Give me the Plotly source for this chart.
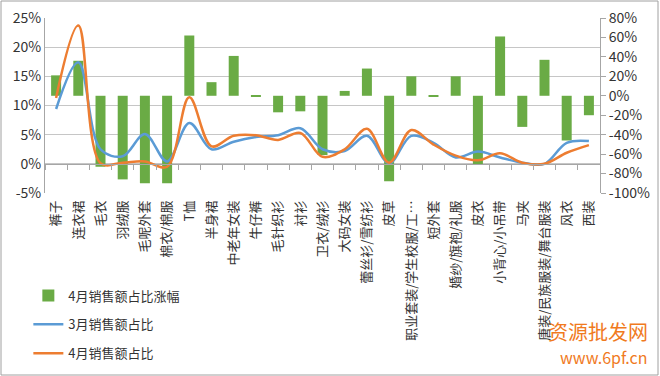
import plotly.graph_objects as go

categories = ["裤子", "连衣裙", "毛衣", "羽绒服", "毛呢外套", "棉衣/棉服", "T恤", "半身裙",
              "中老年女装", "牛仔裤", "毛针织衫", "衬衫", "卫衣/绒衫", "大码女装", "蕾丝衫/雪纺衫",
              "皮草", "职业套装/学生校服/工…", "短外套", "婚纱/旗袍/礼服", "皮衣", "小背心/小吊带",
              "马夹", "唐装/民族服装/舞台服装", "风衣", "西装"]
change_apr = [21, 36, -73, -86, -90, -90, 62, 14, 41, -1, -17, -16, -61, 5, 28,
              -88, 20, -1, 20, -71, 61, -32, 37, -46, -20]
share_mar = [9.4, 17.4, 2.5, 1.3, 5.1, 0.4, 7.0, 2.5, 3.8, 4.6, 4.9, 6.1, 2.5, 2.2, 4.8,
             0.1, 4.8, 3.6, 1.1, 2.1, 1.1, 0.2, 0.0, 3.6, 3.9]
share_apr = [11.3, 23.7, 0.1, 0.2, 0.4, -0.5, 11.4, 3.0, 4.8, 4.9, 4.1, 5.3, 1.2, 2.5, 6.0,
             0.2, 5.8, 3.3, 1.4, 0.6, 1.8, 0.2, 0.0, 1.9, 3.2]

left_ticks = [-5, 0, 5, 10, 15, 20, 25]
right_ticks = [-100, -80, -60, -40, -20, 0, 20, 40, 60, 80]

FONT = "Noto Sans CJK SC, Microsoft YaHei, sans-serif"
GRID = "#C6C6C6"
TXT = "#333333"

fig = go.Figure()
fig.add_trace(go.Bar(x=categories, y=change_apr, name="4月销售额占比涨幅",
                     marker=dict(color="#6AAB45", line=dict(width=0)),
                     width=0.45, xaxis="x", yaxis="y", legendgroup="a"))
fig.add_trace(go.Scatter(x=categories, y=share_mar, name="3月销售额占比", mode="lines",
                         line=dict(color="#5B9BD5", width=2.5, shape="spline", smoothing=1.0),
                         xaxis="x", yaxis="y2", legendgroup="b"))
fig.add_trace(go.Scatter(x=categories, y=share_apr, name="4月销售额占比", mode="lines",
                         line=dict(color="#ED7D31", width=2.5, shape="spline", smoothing=1.0),
                         xaxis="x2", yaxis="y2", legendgroup="c"))

n = len(categories)
fig.update_layout(
    width=660, height=376,
    margin=dict(l=45, r=60, t=18, b=183, autoexpand=False),
    paper_bgcolor="white", plot_bgcolor="white",
    font=dict(family=FONT, size=13, color=TXT),
    showlegend=True,
    legend=dict(x=-0.03, y=-0.5, xanchor="left", yanchor="top",
                traceorder="grouped", tracegroupgap=9,
                font=dict(size=13, color=TXT), bgcolor="rgba(0,0,0,0)"),
    xaxis=dict(type="category", range=[-0.5, n - 0.5], tickangle=-90,
               showgrid=False, showline=False, ticks="", automargin=False,
               ticklabelstandoff=4,
               tickfont=dict(size=13, color=TXT)),
    xaxis2=dict(type="category", range=[-0.5, n - 0.5], overlaying="x", anchor="free",
                position=1 / 6, showticklabels=False, showgrid=False, showline=True,
                linecolor="#A6A6A6", linewidth=1, ticks="outside", tickson="boundaries",
                ticklen=5, tickcolor="#A6A6A6", automargin=False),
    yaxis=dict(side="right", range=[-100, 80], tickvals=right_ticks,
               ticktext=[f"{v}%" for v in right_ticks],
               showgrid=False, zeroline=False, showline=True, linecolor="#A6A6A6",
               ticks="outside", ticklen=5, tickcolor="#A6A6A6",
               minor=dict(showgrid=True, tick0=-100, dtick=30, gridcolor=GRID, gridwidth=1, ticks=""),
               tickfont=dict(size=14, color=TXT), automargin=False),
    yaxis2=dict(side="left", overlaying="y", range=[-5, 25], tickvals=left_ticks,
                ticktext=[f"{v}%" for v in left_ticks],
                showgrid=False, zeroline=False, showline=True, linecolor="#A6A6A6",
                ticks="", tickfont=dict(size=14, color=TXT), automargin=False),
    shapes=[dict(type="rect", xref="paper", yref="paper",
                 x0=-44 / 555, x1=613 / 555, y0=-182 / 175, y1=192 / 175,
                 line=dict(color="#A0A0A0", width=1), fillcolor="rgba(0,0,0,0)", layer="below")],
    annotations=[
        dict(text="资源批发网", xref="paper", yref="paper", x=605 / 555, y=(193 - 331) / 175,
             xanchor="right", yanchor="middle", showarrow=False,
             font=dict(family=FONT, size=20, color="#F07A1E")),
        dict(text="www.6pf.cn", xref="paper", yref="paper", x=605 / 555, y=(193 - 357) / 175,
             xanchor="right", yanchor="middle", showarrow=False,
             font=dict(family=FONT, size=16, color="#F07A1E")),
    ],
)

fig.write_html("out.html", config={"displayModeBar": False},
               post_script="document.body.style.margin='0';")
